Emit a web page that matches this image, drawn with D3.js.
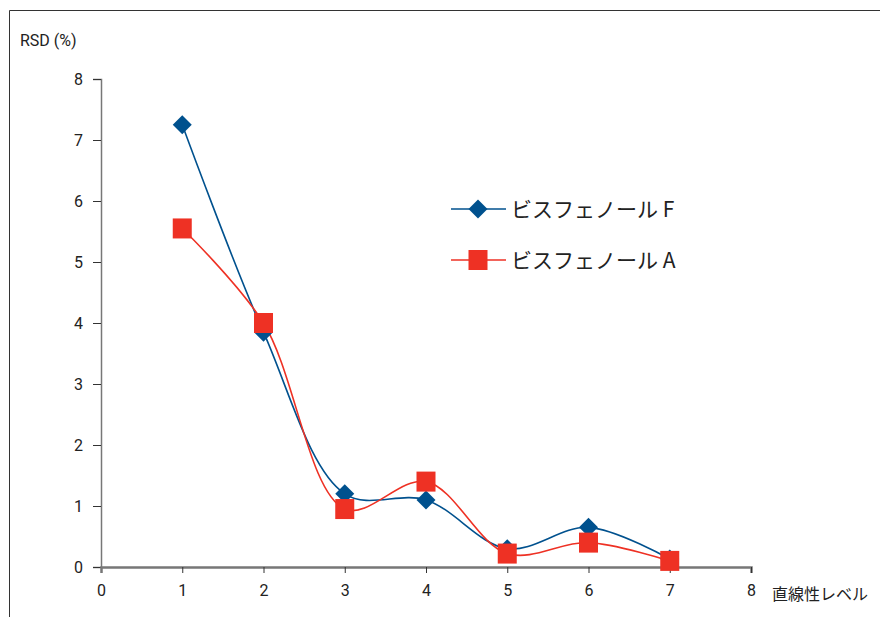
<!DOCTYPE html>
<html><head><meta charset="utf-8">
<script src="https://cdn.jsdelivr.net/npm/d3@7"></script>
<style>body{margin:0;background:#fff}</style>
</head><body>
<script>
const levels = [1,2,3,4,5,6,7];
const bpaF = [7.25,3.85,1.2,1.1,0.3,0.65,0.13];
const bpaA = [5.55,4.0,0.95,1.4,0.22,0.4,0.1];
const xTicks = [0,1,2,3,4,5,6,7,8];
const yTicks = [0,1,2,3,4,5,6,7,8];
const seriesNames = ["ビスフェノール F","ビスフェノール A"];
const colors = ["#00518E","#EE3124"];

const W=880,H=617;
const svg=d3.select("body").append("svg").attr("width",W).attr("height",H);
const font="'Liberation Sans Narrow','Roboto','Noto Sans CJK JP',sans-serif";
// frame
svg.append("path").attr("d","M9.5,"+H+"V10.5H"+W).attr("fill","none").attr("stroke","#333").attr("stroke-width",1);

const x=d3.scaleLinear().domain([0,8]).range([101,751]);
const y=d3.scaleLinear().domain([0,8]).range([567,79]);

const gy=svg.append("g").attr("transform","translate(101,0)").call(d3.axisLeft(y).tickValues(yTicks).tickSize(8).tickPadding(10).tickFormat(d3.format("d")));
const gx=svg.append("g").attr("transform","translate(0,567)").call(d3.axisBottom(x).tickValues(xTicks).tickSize(6).tickPadding(12).tickFormat(d3.format("d")));
[gx,gy].forEach(g=>{
  g.select(".domain").attr("stroke","#777");
  g.selectAll(".tick line").attr("stroke","#333");
  g.selectAll("text").attr("font-family",font).attr("font-size",16).attr("fill","#222");
});
gx.select(".domain").attr("stroke-width",2.5);
gy.select(".domain").attr("stroke-width",1.5);
gx.select(".tick line").remove();

svg.append("text").attr("x",20).attr("y",46).text("RSD (%)").attr("font-family",font).attr("font-size",16).attr("fill","#222");
svg.append("text").attr("x",772).attr("y",600).text("直線性レベル").attr("font-family","'Noto Sans CJK JP',sans-serif").attr("font-size",16).attr("fill","#222");

const line=d3.line().x(d=>x(d[0])).y(d=>y(d[1])).curve(d3.curveCatmullRom.alpha(0.5));
const data=[levels.map((l,i)=>[l,bpaF[i]]),levels.map((l,i)=>[l,bpaA[i]])];
data.forEach((d,i)=>{
  svg.append("path").attr("d",line(d)).attr("fill","none").attr("stroke",colors[i]).attr("stroke-width",1.6);
});
function marker(g,i,cx,cy){
  if(i===0){
    g.append("path").attr("d",`M${cx},${cy-9.5}L${cx+9.5},${cy}L${cx},${cy+9.5}L${cx-9.5},${cy}Z`).attr("fill",colors[0]);
  } else {
    g.append("rect").attr("x",cx-9.5).attr("y",cy-10).attr("width",19).attr("height",20).attr("fill",colors[1]);
  }
}
data.forEach((d,i)=>{
  const g=svg.append("g");
  d.forEach(p=>marker(g,i,x(p[0]),y(p[1])));
});
// legend
seriesNames.forEach((n,i)=>{
  const ly=209+i*51;
  svg.append("line").attr("x1",451).attr("x2",506).attr("y1",ly).attr("y2",ly).attr("stroke",colors[i]).attr("stroke-width",1.6);
  marker(svg,i,478,ly);
  svg.append("text").attr("x",511).attr("y",ly+8).text(n).attr("font-family","'Noto Sans CJK JP',sans-serif").attr("font-size",21).attr("fill","#222");
});
</script>
</body></html>
